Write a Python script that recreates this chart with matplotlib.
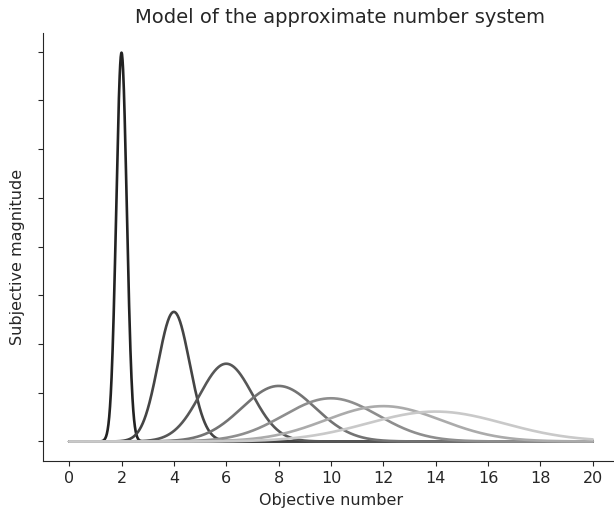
import numpy as np
import matplotlib
matplotlib.use('Agg')
import matplotlib.pyplot as plt
import seaborn as sns

sns.set_style('ticks')
plt.rcParams['font.family'] = ['DejaVu Sans']

# number represented, and spread (sd) of its mental representation
numbers = [2, 4, 6, 8, 10, 12, 14]
spreads = [0.2, 0.6, 1.0, 1.4, 1.8, 2.2, 2.6]
colors = ['#222222', '#444444', '#575757', '#737373', '#8e8e8e', '#ababab', '#c9c9c9']

x_ticks = [0, 2, 4, 6, 8, 10, 12, 14, 16, 18, 20]
y_ticks = [0, 0.25, 0.5, 0.75, 1.0, 1.25, 1.5, 1.75, 2.0]

x = np.linspace(0, 20, 2001)

fig, ax = plt.subplots(figsize=(6.14, 5.11), dpi=100)
for n, sd, c in zip(numbers, spreads, colors):
    y = np.exp(-0.5 * ((x - n) / sd) ** 2) / (sd * np.sqrt(2 * np.pi))
    ax.plot(x, y, color=c, lw=1.9)

ax.set_xticks(x_ticks)
ax.set_yticks(y_ticks)
ax.set_yticklabels([])
ax.tick_params(labelsize=11.5)
ax.set_title('Model of the approximate number system', size=14, pad=7, x=0.515)
ax.set_xlabel('Objective number', size=11.5, labelpad=5)
ax.set_ylabel('Subjective magnitude', size=11.5)
ax.yaxis.set_label_coords(-0.031, 0.477)
sns.despine()

fig.subplots_adjust(left=0.07, right=1.008, top=0.935, bottom=0.098)
fig.savefig('out.png')
